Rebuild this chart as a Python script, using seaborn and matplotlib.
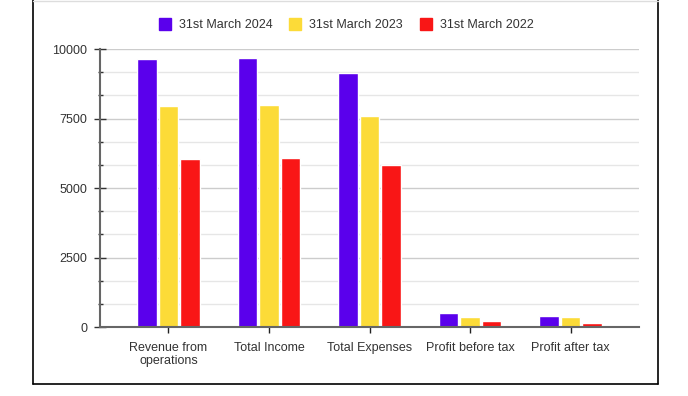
import numpy as np
import pandas as pd
import seaborn as sns
import matplotlib.pyplot as plt
from matplotlib.lines import Line2D
from matplotlib.ticker import MultipleLocator

# --- data ---
categories = ["Revenue from\noperations", "Total Income", "Total Expenses",
              "Profit before tax", "Profit after tax"]
series_names = ["31st March 2024", "31st March 2023", "31st March 2022"]
fy2024 = [9640, 9680, 9140, 505, 400]
fy2023 = [7940, 7985, 7590, 365, 360]
fy2022 = [6045, 6080, 5815, 215, 135]
colors = ["#5a00ec", "#fcdb38", "#f91616"]

rows = []
for name, vals in zip(series_names, [fy2024, fy2023, fy2022]):
    for cat, v in zip(categories, vals):
        rows.append({"Category": cat, "Value": v, "Period": name})
df = pd.DataFrame(rows)

sns.set_theme(style="white")
plt.rcParams["font.family"] = ["Liberation Sans", "DejaVu Sans"]

fig = plt.figure(figsize=(6.88, 3.96), dpi=100)
ax = fig.add_axes([100 / 688, 1 - 327 / 396, 539 / 688, 278 / 396])

sns.barplot(data=df, x="Category", y="Value", hue="Period",
            order=categories, hue_order=series_names, palette=colors,
            width=0.64, gap=0.08, saturation=1, errorbar=None, ax=ax)

ax.set_xlim(-0.68, 4.68)
ax.set_ylim(0, 10000)
ax.yaxis.set_major_locator(MultipleLocator(2500))
ax.yaxis.set_minor_locator(MultipleLocator(2500 / 3))
ax.grid(axis="y", which="major", color="#cccccc", linewidth=1)
ax.grid(axis="y", which="minor", color="#e6e6e6", linewidth=1)
ax.set_axisbelow(True)

ax.set_xlabel("")
ax.set_ylabel("")
for s in ["top", "right"]:
    ax.spines[s].set_visible(False)
for s in ["left", "bottom"]:
    ax.spines[s].set_color("#666666")
    ax.spines[s].set_linewidth(1.5)

ax.tick_params(axis="y", which="major", direction="inout", length=8.6, width=1,
               color="#333333", pad=5, labelsize=9, labelcolor="#333333", left=True)
ax.tick_params(axis="y", which="minor", direction="inout", length=3.6, width=1,
               color="#333333", left=True)
ax.tick_params(axis="x", which="major", direction="inout", length=8, width=1,
               color="#222222", pad=7, labelsize=9, labelcolor="#333333", bottom=True)
for lbl in ax.get_xticklabels():
    lbl.set_linespacing(1.05)

# legend on top
ax.legend_.remove()
handles = [Line2D([0], [0], marker="s", linestyle="", markersize=8.5,
                  markerfacecolor=c, markeredgecolor=c) for c in colors]
fig.legend(handles, series_names, loc="center", bbox_to_anchor=(346 / 688, 1 - 25 / 396),
           ncol=3, frameon=False, fontsize=9, labelcolor="#333333",
           handletextpad=0.6, columnspacing=1.35, handlelength=1.0)

# outer border
fig.add_artist(Line2D([33 / 688, 33 / 688], [1 - 384 / 396, 1], transform=fig.transFigure,
                      color="black", linewidth=1.2))
fig.add_artist(Line2D([658 / 688, 658 / 688], [1 - 384 / 396, 1], transform=fig.transFigure,
                      color="black", linewidth=1.2))
fig.add_artist(Line2D([33 / 688, 658 / 688], [1 - 384 / 396, 1 - 384 / 396],
                      transform=fig.transFigure, color="black", linewidth=1.2))
fig.add_artist(Line2D([33 / 688, 658 / 688], [1 - 0.5 / 396, 1 - 0.5 / 396],
                      transform=fig.transFigure, color="#dddddd", linewidth=1))

fig.savefig("out.png", dpi=100)
